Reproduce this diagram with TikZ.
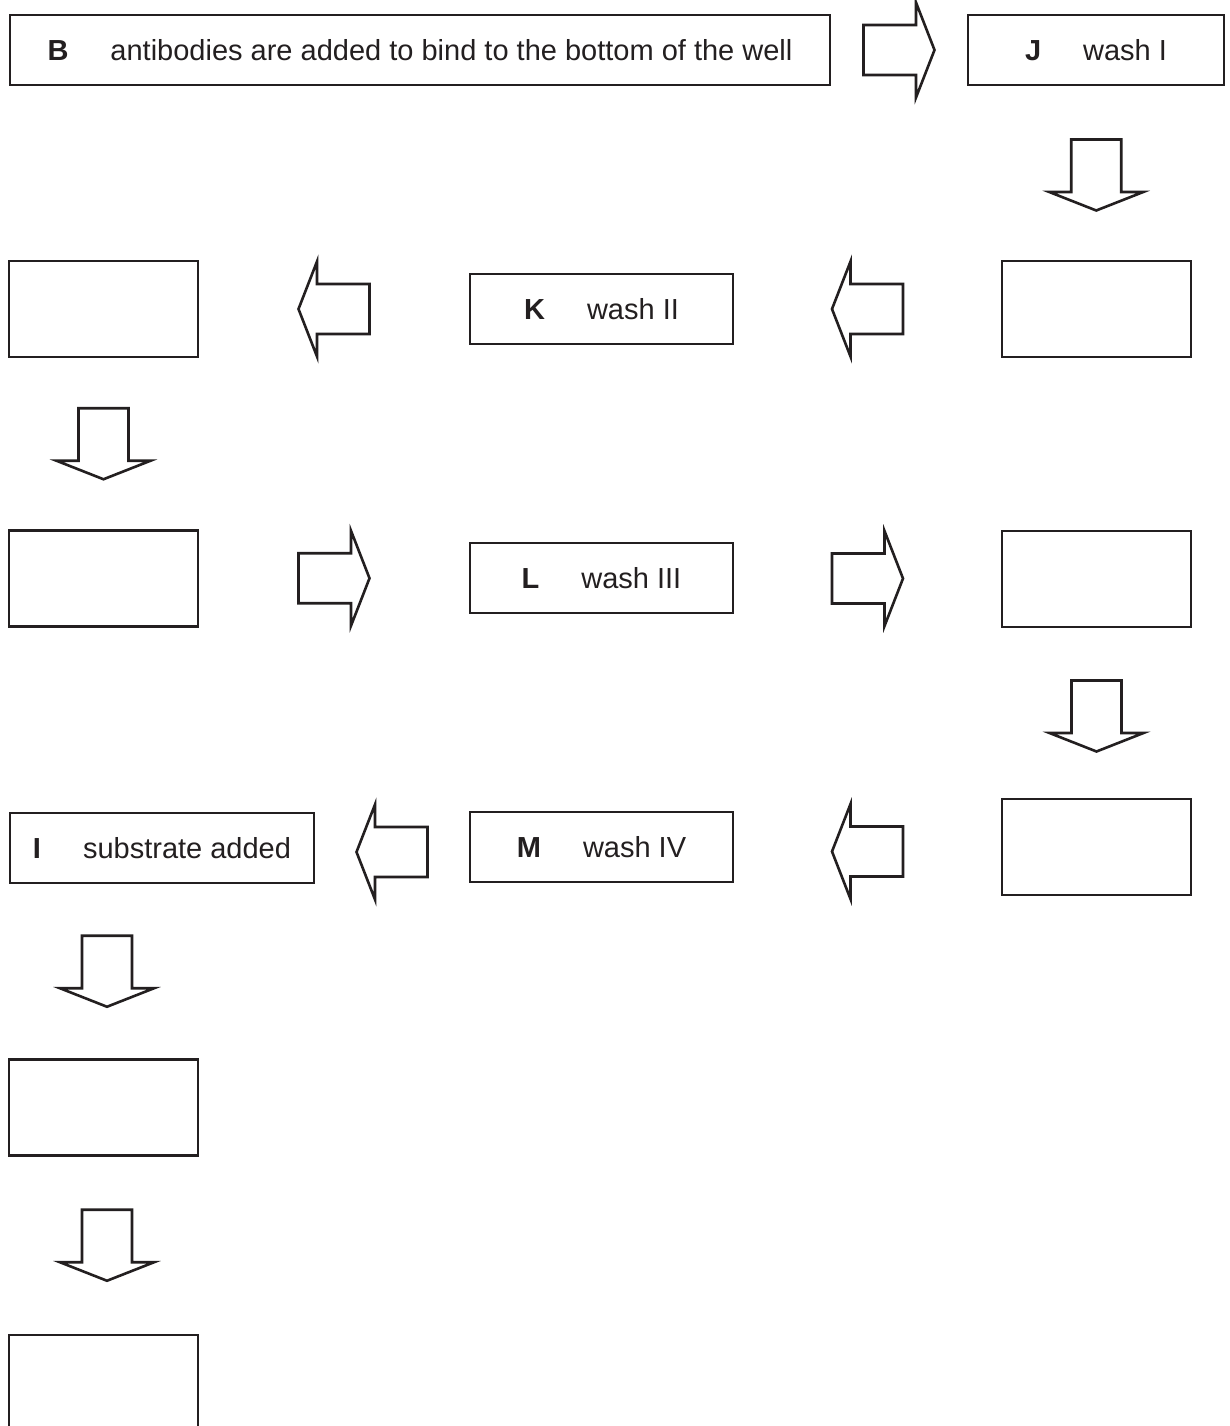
\documentclass[tikz,border=0pt]{standalone}
\usepackage{fontspec}
\setmainfont{Liberation Sans}
\usetikzlibrary{calc}
\definecolor{ink}{HTML}{231F20}

\tikzset{
  stage/.style={draw=ink, line width=2.6pt, rectangle, inner sep=0pt,
    text=ink, font=\fontsize{29pt}{35pt}\selectfont,
    text height=21pt, text depth=0pt},
  wide/.style={minimum width=#1, minimum height=70pt},
  blank/.style={minimum width=189pt, minimum height=96pt},
  blockarrow/.style={draw=ink, line width=2.6pt, line join=miter, fill=white},
  % block arrows, centred on the pic origin (y axis points down)
  rarrow/.pic={\draw[blockarrow] (-35.5,-25) -- (17,-25) -- (17,-47.5) -- (35.5,0)
      -- (17,47.5) -- (17,25) -- (-35.5,25) -- cycle;},
  larrow/.pic={\draw[blockarrow] (35.5,-25) -- (-17,-25) -- (-17,-47.5) -- (-35.5,0)
      -- (-17,47.5) -- (-17,25) -- (35.5,25) -- cycle;},
  darrow/.pic={\draw[blockarrow] (-25,-35.5) -- (25,-35.5) -- (25,17) -- (47,17)
      -- (0,35.5) -- (-47,17) -- (-25,17) -- cycle;},
}
\newcommand{\steplabel}[2]{\textbf{#1}\hspace{42pt}#2}

\begin{document}
\begin{tikzpicture}[x=1pt, y=-1pt]
  \clip (0,0) rectangle (1229,1426);
  \fill[white] (0,0) rectangle (1229,1426);

  % row 1
  \node[stage, wide=820pt] (B) at (420,50) {\steplabel{B}{antibodies are added to bind to the bottom of the well}};
  \node[stage, wide=256pt] (J) at (1096,50) {\steplabel{J}{wash I}};

  % row 2
  \node[stage, blank] (R2L) at (103.5,309) {};
  \node[stage, wide=263pt] (K) at (601.5,309) {\steplabel{K}{wash II}};
  \node[stage, blank] (R2R) at (1096.5,309) {};

  % row 3
  \node[stage, blank] (R3L) at (103.5,578.5) {};
  \node[stage, wide=263pt] (L) at (601.5,578) {\steplabel{L}{wash III}};
  \node[stage, blank] (R3R) at (1096.5,579) {};

  % row 4
  \node[stage, wide=304pt] (I) at (162,848) {\steplabel{I}{substrate added}};
  \node[stage, wide=263pt] (M) at (601.5,847) {\steplabel{M}{wash IV}};
  \node[stage, blank] (R4R) at (1096.5,847) {};

  % left column below
  \node[stage, blank] (R5) at (103.5,1107.5) {};
  \node[stage, blank] (R6) at (103.5,1383) {};

  % arrows between the stages
  \pic at ($(B.east)!0.5!(J.west)$) {rarrow};
  \pic[yshift=-2pt] at ($(J.south)!0.5!(R2R.north)$) {darrow};
  \pic at ($(K.east)!0.5!(R2R.west)$) {larrow};
  \pic at ($(R2L.east)!0.5!(K.west)$) {larrow};
  \pic at ($(R2L.south)!0.5!(R3L.north)$) {darrow};
  \pic at ($(R3L.east)!0.5!(L.west)$) {rarrow};
  \pic at ($(L.east)!0.5!(R3R.west)$) {rarrow};
  \pic[yshift=-3pt] at ($(R3R.south)!0.5!(R4R.north)$) {darrow};
  \pic[yshift=-4.5pt] at ($(M.east)!0.5!(R4R.west)$) {larrow};
  \pic[yshift=-4.5pt] at ($(I.east)!0.5!(M.west)$) {larrow};
  \pic[xshift=3.5pt] at ($(R5.north)!0.5!(R5.north |- I.south)$) {darrow};
  \pic[xshift=3.5pt] at ($(R5.south)!0.5!(R6.north)$) {darrow};
\end{tikzpicture}
\end{document}
